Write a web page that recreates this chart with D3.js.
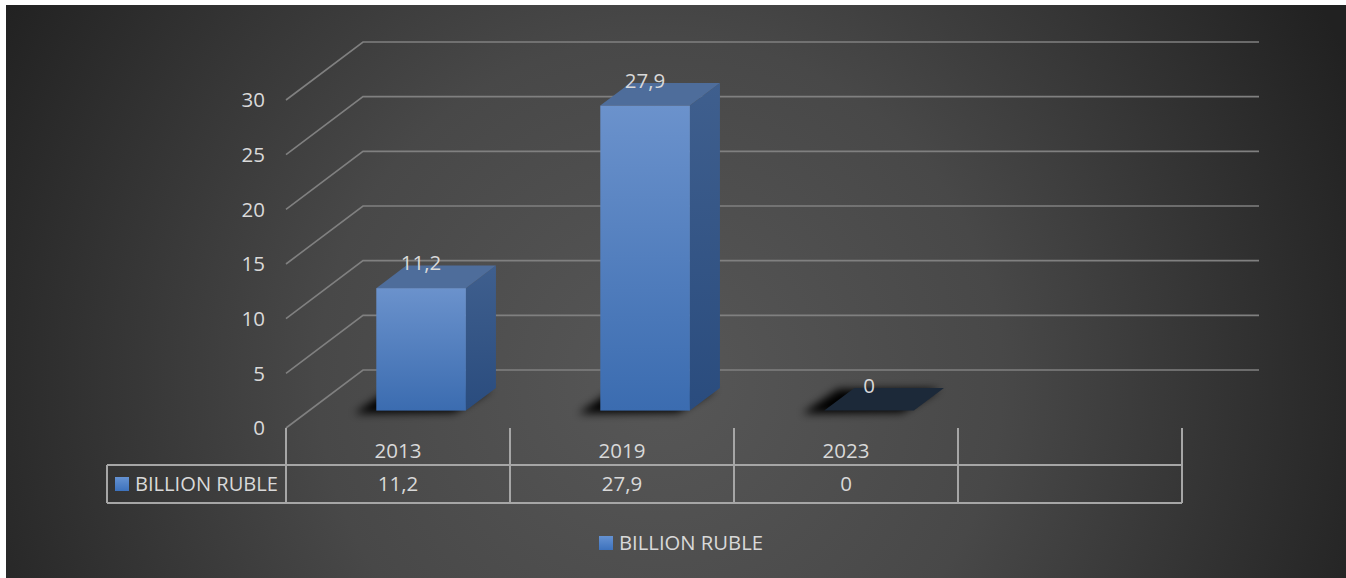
<!DOCTYPE html>
<html>
<head>
<meta charset="utf-8">
<script src="https://cdn.jsdelivr.net/npm/d3@7"></script>
<style>
  html, body { margin: 0; padding: 0; background: #ffffff; }
  svg { display: block; }
  text { font-family: "Open Sans", "Noto Sans", sans-serif; fill: #d9d9d9; }
</style>
</head>
<body>
<svg id="chart" width="1346" height="578"></svg>
<script>
// data
const categories = ["2013", "2019", "2023", ""];
const values = [11.2, 27.9, 0, null];
const valueLabels = ["11,2", "27,9", "0", ""];
const seriesName = "BILLION RUBLE";
const yTicks = [0, 5, 10, 15, 20, 25, 30];

const W = 1346, H = 578;
const fontSize = 20.5;
const svg = d3.select("#chart");
const defs = svg.append("defs");

// background
let bg = defs.append("radialGradient")
    .attr("id", "bgGrad")
    .attr("gradientUnits", "userSpaceOnUse")
    .attr("cx", 660).attr("cy", 380).attr("r", 760);
bg.append("stop").attr("offset", "0").attr("stop-color", "#575757");
bg.append("stop").attr("offset", "0.45").attr("stop-color", "#484848");
bg.append("stop").attr("offset", "1").attr("stop-color", "#212121");

svg.append("rect")
    .attr("x", 6).attr("y", 5)
    .attr("width", W - 6).attr("height", H - 5)
    .attr("fill", "url(#bgGrad)");

// bar gradients
let front = defs.append("linearGradient").attr("id", "frontGrad")
    .attr("x1", 0).attr("y1", 0).attr("x2", 0).attr("y2", 1);
front.append("stop").attr("offset", "0").attr("stop-color", "#6b92cc");
front.append("stop").attr("offset", "1").attr("stop-color", "#3b6cb0");

let side = defs.append("linearGradient").attr("id", "sideGrad")
    .attr("x1", 0).attr("y1", 0).attr("x2", 0).attr("y2", 1);
side.append("stop").attr("offset", "0").attr("stop-color", "#3f5f8e");
side.append("stop").attr("offset", "1").attr("stop-color", "#2a4c7e");

defs.append("filter").attr("id", "blur")
    .attr("x", "-50%").attr("y", "-100%").attr("width", "200%").attr("height", "300%")
    .append("feGaussianBlur").attr("stdDeviation", 4);

// scales (front plane)
const x = d3.scaleBand().domain(categories).range([286, 1182]).padding(0);
const y = d3.scaleLinear().domain([0, 30]).range([428, 100]);

// depth of the plot box
const depthX = 77, depthY = -58;
const proj = (px, py, d) => [px + d * depthX, py + d * depthY];

const barW = x.bandwidth() * 0.4;
const dFront = 0.3, dBack = 0.69;

// gridlines: back wall + left wall
const grid = svg.append("g").attr("stroke", "#808080").attr("stroke-width", 1.6).attr("fill", "none");
yTicks.forEach(t => {
    const a = proj(x.range()[0], y(t), 0);
    const b = proj(x.range()[0], y(t), 1);
    const c = proj(x.range()[1], y(t), 1);
    grid.append("path").attr("d", d3.line()([a, b, c]));
});

// y tick labels
svg.append("g").selectAll("text").data(yTicks).join("text")
    .attr("x", 265)
    .attr("y", d => y(d))
    .attr("dy", "0.35em")
    .attr("text-anchor", "end")
    .attr("font-size", fontSize)
    .text(d => d);

// bars
const bars = svg.append("g");
categories.forEach((cat, i) => {
    const v = values[i];
    if (v === null) return;
    const cx = x(cat) + x.bandwidth() / 2;
    const x0 = cx - barW / 2, x1 = cx + barW / 2;
    const y0 = y(0), yv = y(v);

    const fBL = proj(x0, y0, dFront), fBR = proj(x1, y0, dFront);
    const fTL = proj(x0, yv, dFront), fTR = proj(x1, yv, dFront);
    const bBL = proj(x0, y0, dBack), bBR = proj(x1, y0, dBack);
    const bTL = proj(x0, yv, dBack), bTR = proj(x1, yv, dBack);

    // shadow on the floor
    const sh = [fBL, fBR, bBR, bBL].map(p => [p[0] - 12, p[1] + 2]);
    bars.append("path")
        .attr("d", d3.line()([[sh[0][0] - 10, sh[0][1] + 1], sh[1], [sh[2][0] + 8, sh[2][1] - 1], [sh[3][0] - 4, sh[3][1] - 1]]) + "Z")
        .attr("fill", "#000")
        .attr("opacity", 1)
        .attr("filter", "url(#blur)");

    if (v === 0) {
        bars.append("path")
            .attr("d", d3.line()([fBL, fBR, bBR, bBL]) + "Z")
            .attr("fill", "#1c2939");
    } else {
        // side
        bars.append("path")
            .attr("d", d3.line()([fTR, bTR, bBR, fBR]) + "Z")
            .attr("fill", "url(#sideGrad)");
        // top
        bars.append("path")
            .attr("d", d3.line()([fTL, fTR, bTR, bTL]) + "Z")
            .attr("fill", "#4e6d9b");
        // front
        bars.append("rect")
            .attr("x", fTL[0]).attr("y", fTL[1])
            .attr("width", barW).attr("height", fBL[1] - fTL[1])
            .attr("fill", "url(#frontGrad)");
    }

    // data label
    svg.append("text")
        .attr("x", fTL[0] + barW / 2)
        .attr("y", fTL[1] - 25)
        .attr("dy", "0.35em")
        .attr("text-anchor", "middle")
        .attr("font-size", fontSize)
        .text(valueLabels[i]);
});

// data table
const table = svg.append("g").attr("stroke", "#a6a6a6").attr("stroke-width", 2).attr("fill", "none");
const tTop = 428, rowTop = 465, rowBot = 503, tLeft = 107;
table.append("path").attr("d", d3.line()([[tLeft, rowTop], [x.range()[1], rowTop]]));
table.append("path").attr("d", d3.line()([[tLeft, rowBot], [x.range()[1], rowBot]]));
table.append("path").attr("d", d3.line()([[tLeft, rowTop], [tLeft, rowBot]]));
categories.forEach(cat => {
    table.append("path").attr("d", d3.line()([[x(cat), tTop], [x(cat), rowBot]]));
});
table.append("path").attr("d", d3.line()([[x.range()[1], tTop], [x.range()[1], rowBot]]));

svg.append("g").selectAll("text").data(categories).join("text")
    .attr("x", d => x(d) + x.bandwidth() / 2)
    .attr("y", 451)
    .attr("dy", "0.35em")
    .attr("text-anchor", "middle")
    .attr("font-size", fontSize)
    .text(d => d);

svg.append("g").selectAll("text").data(valueLabels).join("text")
    .attr("x", (d, i) => x(categories[i]) + x.bandwidth() / 2)
    .attr("y", 484)
    .attr("dy", "0.35em")
    .attr("text-anchor", "middle")
    .attr("font-size", fontSize)
    .text(d => d);

let keyGrad = defs.append("linearGradient").attr("id", "keyGrad")
    .attr("x1", 0).attr("y1", 0).attr("x2", 0).attr("y2", 1);
keyGrad.append("stop").attr("offset", "0").attr("stop-color", "#6592d2");
keyGrad.append("stop").attr("offset", "1").attr("stop-color", "#3d72bd");

// table legend key
svg.append("rect").attr("x", 115).attr("y", 477).attr("width", 14).attr("height", 14).attr("fill", "url(#keyGrad)");
svg.append("text").attr("x", 135).attr("y", 484).attr("dy", "0.35em")
    .attr("font-size", fontSize).attr("textLength", 143).attr("lengthAdjust", "spacingAndGlyphs")
    .text(seriesName);

// bottom legend
svg.append("rect").attr("x", 599).attr("y", 536).attr("width", 14).attr("height", 14).attr("fill", "url(#keyGrad)");
svg.append("text").attr("x", 619).attr("y", 543).attr("dy", "0.35em")
    .attr("font-size", fontSize).attr("textLength", 144).attr("lengthAdjust", "spacingAndGlyphs")
    .text(seriesName);
</script>
</body>
</html>
